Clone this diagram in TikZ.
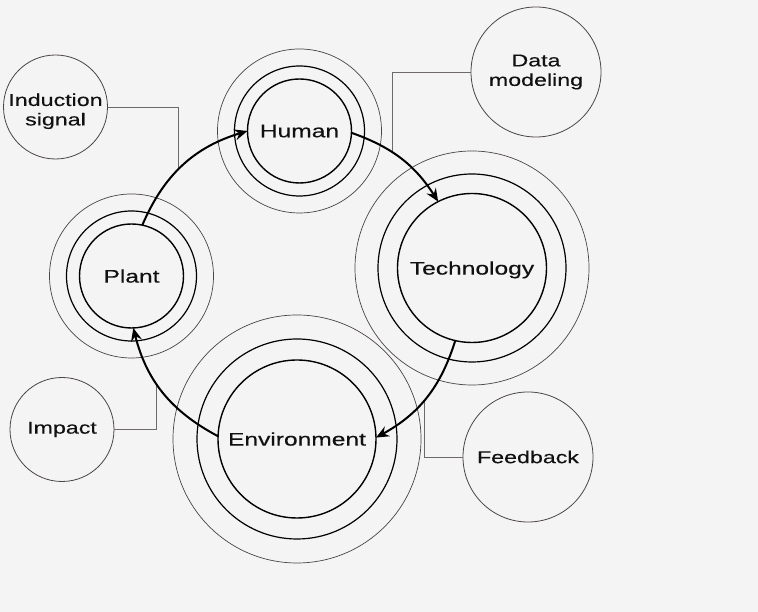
\documentclass[tikz,border=0pt]{standalone}
\usepackage{fontspec}
\setmainfont{Liberation Sans}[FakeStretch=1.35,FakeBold=0.3]
\usetikzlibrary{arrows.meta,intersections}
\definecolor{bg}{HTML}{F4F4F4}
\definecolor{ring}{HTML}{4A4444}
\definecolor{conn}{HTML}{6E6A6A}
\definecolor{ink}{HTML}{111111}
\begin{document}
\begin{tikzpicture}[x=1pt,y=1pt,
  core/.style={circle,draw=black,line width=1.4pt,inner sep=0pt,outer sep=0pt,text=ink,text depth=0pt,font=\fontsize{18.2}{20}\selectfont},
  sat/.style={circle,draw=ring,line width=0.8pt,inner sep=0pt,outer sep=0pt,align=center,text=ink,font=\fontsize{17.2}{19.5}\selectfont},
  midring/.style={draw=black,line width=1.2pt},
  outring/.style={draw=ring,line width=0.7pt},
  flow/.style={draw=black,line width=2pt,-{Stealth[length=13pt,width=11pt,inset=4.5pt]}},
  link/.style={draw=conn,line width=0.9pt}]
\fill[bg] (0,0) rectangle (758,612);
\useasboundingbox (0,0) rectangle (758,612);

% main nodes
\node[core,minimum size=104pt] (human) at (299.5,481) {Human};
\node[core,minimum size=104pt] (plant) at (131.5,336) {Plant};
\node[core,minimum size=149pt] (tech) at (472,344) {Technology};
\node[core,minimum size=158pt] (env) at (297,173) {Environment};

% satellites
\node[sat,minimum size=104pt] (ind) at (55.5,505) {\rule{0pt}{21pt}Induction\\signal};
\node[sat,minimum size=130pt] (dm) at (536,540) {Data\\modeling};
\node[sat,minimum size=104pt] (imp) at (62,182.5) {Impact};
\node[sat,minimum size=130pt] (fb) at (528,155) {Feedback};

% rings
\draw[midring] (human.center) circle[radius=65pt];
\draw[outring] (human.center) circle[radius=82pt];
\draw[midring] (plant.center) circle[radius=65pt];
\draw[outring] (plant.center) circle[radius=82pt];
\draw[midring] (tech.center) circle[radius=94pt];
\draw[outring] (tech.center) circle[radius=117pt];
\draw[midring] (env.center) circle[radius=100pt];
\draw[outring] (env.center) circle[radius=124pt];

% flow paths (for intersections)
\path[name path=f1] (plant.78) to[bend left=25] (human.180);
\path[name path=f2] (human.-2) to[bend left=19] (tech.117);
\path[name path=f3] (tech.257) to[bend left=22] (env.1);
\path[name path=f4] (env.178) to[bend left=24] (plant.272);

\path[name path=v1] (178.5,505) -- (178.5,340);
\path[name path=v2] (392,540) -- (392,400);
\path[name path=v3] (156,182.5) -- (156,300);
\path[name path=v4] (424,155) -- (424,280);
\path[name intersections={of=f1 and v1,by=i1}];
\path[name intersections={of=f2 and v2,by=i2}];
\path[name intersections={of=f4 and v3,by=i3}];
\path[name intersections={of=f3 and v4,by=i4}];

% links
\draw[link] (ind.east) -| (i1);
\draw[link] (dm.west) -| (i2);
\draw[link] (imp.east) -| (i3);
\draw[link] (fb.west) -| (i4);

% flows
\draw[flow] (plant.78) to[bend left=25] (human.180);
\draw[flow] (human.-2) to[bend left=19] (tech.117);
\draw[flow] (tech.257) to[bend left=22] (env.1);
\draw[flow] (env.178) to[bend left=24] (plant.272);
\end{tikzpicture}
\end{document}
